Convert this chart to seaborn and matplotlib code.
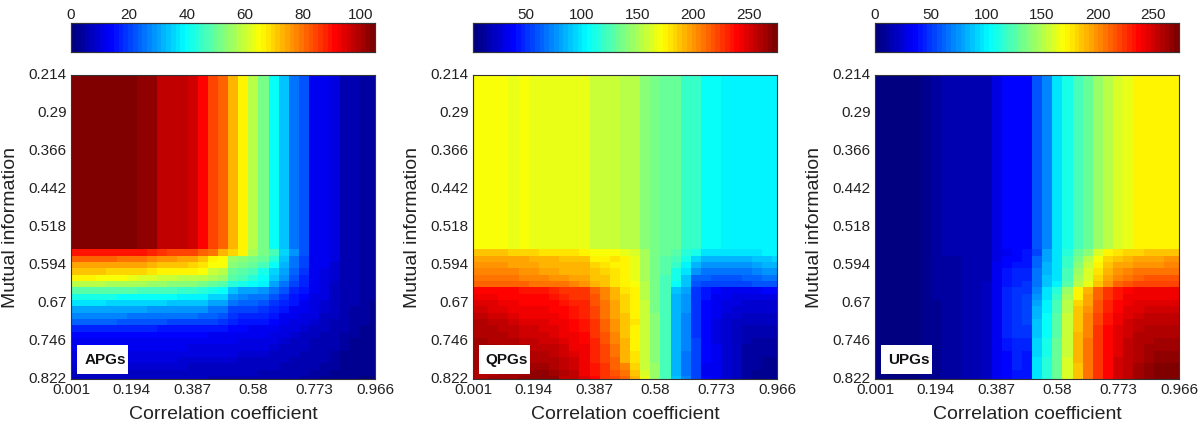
import numpy as np
import matplotlib
matplotlib.use('Agg')
import matplotlib.pyplot as plt
from matplotlib.colors import LinearSegmentedColormap
from matplotlib.patches import Rectangle
import seaborn as sns

x_labels = ['0.001', '0.194', '0.387', '0.58', '0.773', '0.966']
y_labels = ['0.214', '0.29', '0.366', '0.442', '0.518', '0.594', '0.67', '0.746', '0.822']

# the upper 28 rows of every panel are the same row repeated
n_flat = 28

apg_top = [105,105,105,105,105,105,104,103,103,98,98,97,96,91,84,81,73,66,59,51,41,33,26,22,13,12,10,6,5,4,4]
apg_rows = [
    [90,90,90,90,90,90,90,89,88,86,85,85,84,82,80,73,70,66,57,52,46,36,28,22,13,12,10,6,5,4,4],
    [81,81,81,81,81,80,80,79,78,77,76,75,74,72,67,65,55,54,52,50,44,34,26,21,13,12,10,6,5,4,4],
    [75,75,75,75,75,75,74,74,73,72,72,71,70,68,65,64,53,52,50,47,40,32,25,20,13,12,9,6,5,4,4],
    [71,71,71,71,70,70,70,69,68,67,67,66,66,65,60,59,50,49,47,42,36,30,24,19,13,11,9,6,5,4,4],
    [66,66,66,65,65,64,63,62,61,60,60,59,59,58,56,55,48,46,44,41,34,28,22,18,12,11,9,6,5,4,4],
    [58,58,58,58,57,57,56,56,55,55,54,54,53,52,50,49,44,42,40,38,30,26,21,17,12,11,8,6,5,4,4],
    [49,49,49,49,48,48,48,47,47,46,46,45,45,44,42,41,33,31,30,29,25,22,18,15,12,10,8,6,5,4,4],
    [42,42,42,42,42,41,41,41,40,40,40,39,39,38,36,35,28,27,26,25,22,19,16,14,11,10,8,6,5,4,4],
    [37,37,37,37,36,36,36,35,35,35,34,34,34,33,31,30,25,24,23,22,19,17,15,13,11,9,7,5,5,4,3],
    [31,31,31,31,30,30,30,30,29,29,29,29,28,28,26,25,21,20,20,19,17,15,13,12,10,9,7,5,4,4,3],
    [27,27,27,27,27,27,26,26,26,26,25,25,25,24,23,22,19,18,18,17,15,13,12,11,10,8,7,5,4,4,3],
    [23,23,23,23,23,22,22,22,22,22,21,21,21,20,20,19,17,16,16,15,14,13,11,10,9,8,6,5,4,4,3],
    [17,17,17,17,17,17,17,17,17,16,16,16,16,16,15,15,14,14,13,13,12,11,10,9,8,7,6,5,4,3,3],
    [14,14,14,14,14,14,14,14,14,14,14,14,14,14,13,13,13,12,12,12,11,10,9,8,7,6,5,4,4,3,3],
    [13,13,13,13,13,13,13,13,13,13,13,13,13,13,12,12,12,11,11,11,10,9,8,7,6,6,5,4,3,3,3],
    [12,12,12,12,12,12,12,12,12,12,12,12,11,11,11,11,11,10,10,10,9,8,7,7,6,5,5,4,3,3,2],
    [11,11,11,11,11,11,11,11,11,11,11,10,10,10,10,10,10,9,9,9,8,8,7,6,6,5,4,3,3,2,2],
    [10,10,10,10,10,10,10,10,10,10,10,9,9,9,9,9,9,8,8,8,7,7,6,6,5,5,4,3,3,2,2],
    [9,9,9,9,9,9,9,9,9,9,9,9,8,8,8,8,8,8,7,7,7,6,6,5,5,4,4,3,2,2,2],
    [8,8,8,8,8,8,8,8,8,8,8,8,8,7,7,7,7,7,7,6,6,6,5,5,4,4,3,3,2,2,2],
    [7,7,7,7,7,7,7,7,7,7,7,7,7,7,6,6,6,6,6,6,5,5,5,4,4,3,3,2,2,1,1],
]

qpg_top = [172,172,172,172,166,172,166,166,166,165,165,165,156,156,156,155,154,140,135,133,131,120,118,105,105,104,104,103,103,103,103]
qpg_rows = [
    [188,188,188,188,183,182,182,180,180,179,178,177,172,171,169,168,162,150,138,132,128,116,112,100,100,100,100,100,100,103,103],
    [198,198,198,198,196,195,193,191,190,187,187,186,175,176,178,176,165,150,138,130,122,110,96,84,86,87,85,85,88,92,94],
    [200,200,200,200,198,198,196,193,192,192,191,190,184,181,176,174,166,151,138,129,118,104,86,76,76,76,76,78,80,84,84],
    [205,205,205,205,203,201,200,198,196,194,192,191,187,184,178,175,167,151,137,128,113,98,76,70,68,68,68,70,72,76,76],
    [208,208,208,207,207,206,204,203,202,200,198,195,188,186,180,176,168,151,136,126,110,92,66,63,61,61,61,63,65,68,70],
    [213,213,213,212,212,212,210,208,208,208,206,200,192,188,181,177,170,152,135,124,106,88,62,58,56,56,56,58,60,62,62],
    [240,240,239,238,238,236,236,234,232,228,226,224,214,204,192,180,173,155,138,124,88,82,50,42,38,36,36,36,36,38,38],
    [243,243,242,240,240,238,237,237,236,232,228,226,216,206,193,182,174,155,138,123,85,78,50,42,36,33,31,30,30,30,30],
    [248,248,246,244,242,240,240,240,238,236,232,229,218,207,195,184,175,156,138,122,85,76,50,40,35,31,29,27,27,27,28],
    [250,250,248,246,244,242,242,242,240,238,234,230,220,208,196,185,176,156,138,122,85,76,50,40,34,30,27,26,25,25,25],
    [255,255,252,250,248,245,244,244,242,240,236,232,222,210,198,186,177,157,139,122,85,74,50,40,33,28,25,23,23,22,22],
    [259,259,256,254,250,248,248,246,244,242,238,233,224,212,200,187,178,157,139,122,85,73,50,38,32,27,23,21,20,20,20],
    [260,260,258,256,254,250,250,248,246,243,240,236,226,214,202,188,174,158,140,122,85,72,50,38,32,26,22,19,18,18,18],
    [262,262,260,258,256,252,252,250,248,245,241,238,228,216,204,189,174,158,140,122,85,72,52,38,32,26,21,17,16,16,16],
    [263,263,262,260,258,256,254,252,250,248,243,240,230,218,206,190,175,158,141,122,85,71,54,38,32,26,20,16,15,14,14],
    [264,264,263,262,260,258,256,255,254,250,245,241,230,220,208,191,176,158,142,122,85,71,54,37,33,26,20,15,14,13,13],
    [264,264,264,263,262,260,260,258,256,252,248,242,232,222,210,192,178,158,142,122,85,70,55,37,33,26,20,14,13,12,12],
    [264,264,264,264,263,262,262,262,258,254,250,243,232,222,212,194,180,160,143,122,85,70,55,37,33,27,20,14,12,11,11],
    [263,263,263,264,264,264,265,266,262,256,252,244,234,224,214,205,184,160,144,122,85,70,55,36,33,27,20,13,12,10,10],
    [262,262,262,263,264,266,267,268,266,258,254,245,236,226,216,210,188,162,144,122,85,70,55,36,33,27,20,13,11,10,10],
    [262,262,263,264,265,267,268,270,268,256,255,246,240,228,220,213,190,165,146,122,92,75,58,38,33,27,20,13,11,10,10],
]

upg_top = [4,4,4,4,4,5,12,14,14,15,15,16,28,35,37,38,56,70,95,108,122,132,142,150,158,165,171,172,172,172,172]
upg_rows = [
    [4,4,4,4,4,5,11,13,13,14,14,16,26,32,36,40,55,80,95,115,130,140,158,172,178,182,182,185,185,186,186],
    [4,4,4,4,4,5,10,12,12,13,13,16,28,36,38,42,60,80,96,118,135,150,168,180,184,190,192,196,196,198,198],
    [4,4,4,4,4,5,10,12,12,13,14,16,30,38,40,42,62,82,97,119,138,155,172,186,192,196,198,200,200,202,202],
    [4,4,4,4,4,5,10,12,12,13,14,16,30,40,44,44,64,84,98,120,142,158,176,190,198,202,206,208,208,208,208],
    [4,4,4,4,4,5,9,11,12,13,14,17,30,40,44,46,66,86,98,122,146,162,180,196,204,208,212,214,214,214,214],
    [3,3,3,3,4,5,9,11,12,13,14,18,30,42,46,48,68,88,99,124,150,166,184,200,210,214,218,220,220,220,220],
    [3,3,3,3,4,5,9,11,12,13,15,18,30,44,48,50,72,95,115,145,172,190,210,225,232,238,240,240,240,240,240],
    [3,3,3,3,4,5,9,11,12,14,15,18,30,46,50,52,76,98,118,148,172,192,212,226,234,240,242,242,242,242,242],
    [3,3,3,3,4,5,8,10,12,14,16,19,30,46,50,54,80,100,120,150,180,196,214,228,236,242,244,245,245,245,245],
    [3,3,3,3,4,5,8,10,12,14,16,19,30,46,50,54,82,102,122,152,184,200,216,230,238,244,246,248,248,248,248],
    [3,3,3,3,4,5,8,10,12,14,16,20,30,46,50,54,84,104,124,154,186,202,218,232,240,246,250,252,252,252,252],
    [3,3,3,3,4,5,8,10,12,14,16,20,30,46,50,52,86,104,124,154,186,204,220,234,242,248,252,254,255,255,255],
    [3,3,3,3,4,5,8,10,12,14,16,20,30,46,48,50,88,106,126,155,186,204,222,236,244,250,254,256,258,258,258],
    [3,3,3,3,4,5,8,10,12,14,16,20,30,44,48,48,88,106,126,155,188,204,222,236,244,250,256,258,260,260,260],
    [3,3,3,3,4,5,8,10,12,14,16,20,30,42,46,46,90,108,128,156,188,206,222,238,246,252,258,260,262,262,262],
    [3,3,3,3,4,5,8,10,12,14,16,20,30,40,46,44,92,110,128,156,188,206,224,238,246,252,258,262,264,264,264],
    [3,3,3,3,4,5,7,9,12,14,16,20,30,38,45,42,92,110,130,156,188,206,224,238,246,254,260,262,266,266,266],
    [3,3,3,3,4,5,7,9,11,13,15,20,30,36,44,42,94,112,130,158,188,206,224,238,248,254,260,264,268,268,268],
    [3,3,3,3,4,5,7,9,11,13,15,20,30,36,44,40,95,112,132,158,187,205,222,238,248,254,262,266,270,270,270],
    [3,3,3,3,4,5,7,9,11,13,15,20,30,36,42,40,95,112,132,158,187,205,222,238,248,254,262,266,272,272,271],
    [3,3,3,3,4,5,7,9,11,13,15,20,30,36,42,40,95,112,132,158,187,205,222,238,248,254,262,268,272,272,272],
]

sns.set_theme(style='white')
plt.rcParams['font.family'] = ['Liberation Sans', 'DejaVu Sans']
text_color = '#222222'
W, H = 1200, 424
# the jet of the original has evenly spaced stops, unlike matplotlib's own
jet = LinearSegmentedColormap.from_list('jet_even', [
    (0, (0, 0, 0.5)), (0.125, (0, 0, 1)), (0.375, (0, 1, 1)),
    (0.625, (1, 1, 0)), (0.875, (1, 0, 0)), (1, (0.5, 0, 0))], N=64)


def draw_panel(left, top, rows, vmin, vmax, cbar_ticks, name):
    width = 304
    ax = fig.add_axes([left / W, 1 - 379 / H, width / W, 304 / H])
    cax = fig.add_axes([left / W, 1 - 52 / H, width / W, 29 / H])
    data = np.array([top] * n_flat + rows)
    sns.heatmap(data, ax=ax, cbar_ax=cax, cmap=jet, vmin=vmin, vmax=vmax,
                cbar_kws={'orientation': 'horizontal', 'ticks': cbar_ticks})

    # cells are centred on the grid values, so the outer cells show only half
    ax.set_xlim(0.5, 30.5)
    ax.set_ylim(48.5, 0.5)
    ax.set_xticks(np.arange(0.5, 31, 6), x_labels, rotation=0)
    ax.set_yticks(np.arange(0.5, 49, 6), y_labels, rotation=0)
    ax.tick_params(direction='in', length=3, width=0.7, top=True, right=True,
                   bottom=True, left=True, labelsize=11, pad=3,
                   color='#333333', labelcolor=text_color)
    ax.set_xlabel('Correlation coefficient', fontsize=14, color=text_color)
    ax.set_ylabel('Mutual information', fontsize=14, color=text_color)
    ax.xaxis.set_label_coords(0.5, -0.088)
    ax.yaxis.set_label_coords(-0.171, 0.5)
    for s in ax.spines.values():
        s.set_visible(True)
        s.set_linewidth(0.8)
        s.set_color('#333333')

    cax.xaxis.set_ticks_position('top')
    cax.tick_params(direction='in', length=2.5, width=0.6, bottom=True, top=True,
                    labelsize=11, pad=1, color='#333333', labelcolor=text_color)
    for s in cax.spines.values():
        s.set_visible(True)
        s.set_linewidth(0.8)
        s.set_color('#333333')

    ax.add_patch(Rectangle((6 / width, 5 / 304), 51 / width, 29 / 304,
                           transform=ax.transAxes, facecolor='white',
                           edgecolor='none', zorder=5))
    ax.text(34 / width, 19 / 304, name, transform=ax.transAxes, ha='center',
            va='center', fontsize=11, fontweight='bold', color='#111111', zorder=6)


fig = plt.figure(figsize=(12, 4.24), dpi=100)
draw_panel(71, apg_top, apg_rows, 0, 105, [0, 20, 40, 60, 80, 100], 'APGs')
draw_panel(473, qpg_top, qpg_rows, 3, 275, [50, 100, 150, 200, 250], 'QPGs')
draw_panel(875, upg_top, upg_rows, 0, 273, [0, 50, 100, 150, 200, 250], 'UPGs')
fig.savefig('out.png', dpi=100)
